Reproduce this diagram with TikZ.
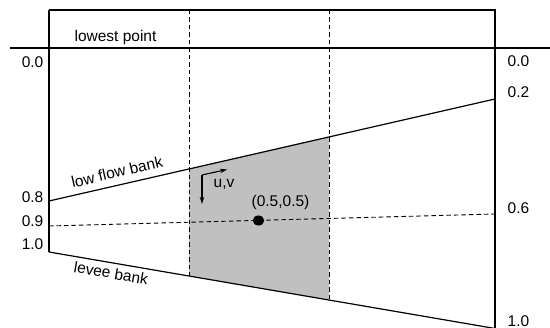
\documentclass[tikz,border=0pt]{standalone}
\usepackage{fontspec}
\setmainfont{Liberation Sans}
\usetikzlibrary{arrows.meta,shapes.geometric}
\definecolor{cellgray}{RGB}{192,192,192}
\begin{document}
\begin{tikzpicture}[x=1pt,y=-1pt,
  thickline/.style={line width=2.2pt},
  frameline/.style={line width=1.6pt},
  bankline/.style={line width=1.2pt},
  dashline/.style={line width=0.9pt,dash pattern=on 4.5pt off 3pt},
  lbl/.style={font=\fontsize{15.5}{18}\selectfont,inner sep=0pt},
  vec/.style={line width=1.1pt,-{Stealth[length=7pt,width=4.5pt]}}]
\useasboundingbox (0,0) rectangle (550,328);
% coordinates
\coordinate (TL) at (49,10);
\coordinate (TR) at (495,10);
\coordinate (HL) at (10,48);
\coordinate (HR) at (550,48);
\coordinate (LB) at (49,252);
\coordinate (RB) at (495,328);
\coordinate (lfA) at (49,201);
\coordinate (lfB) at (495,99);
\coordinate (lvA) at (49,252);
\coordinate (lvB) at (495,328.5);
\coordinate (mdA) at (49,226);
\coordinate (mdB) at (495,214);
\coordinate (d1T) at (189,10);
\coordinate (d1B) at (189,276);
\coordinate (d2T) at (329,10);
\coordinate (d2B) at (329,300);
\coordinate (g1) at (189,169);
\coordinate (g2) at (329,137);
% shaded cell
\fill[cellgray] (g1) -- (g2) -- (d2B) -- (d1B) -- cycle;
% dashed lines
\draw[dashline] (d1T) -- (d1B);
\draw[dashline] (d2T) -- (d2B);
\draw[dashline] (mdA) -- (mdB);
% banks
\draw[bankline] (lfA) -- (lfB);
\draw[bankline] (lvA) -- (lvB);
% frame
\draw[frameline] (TL) -- (TR) -- (RB);
\draw[thickline] (TL) -- (LB);
\draw[thickline] (HL) -- (HR);
% point
\node[fill=black,ellipse,inner sep=0pt,minimum width=11.5pt,minimum height=10pt] (pt) at (258.5,220.5) {};
% u,v arrows
\coordinate (uv) at (202,175);
\coordinate (uE) at (227,169.5);
\coordinate (vE) at (202,204);
\draw[vec] (uv) -- (uE);
\draw[vec] (uv) -- (vE);
% labels
\node[lbl,anchor=base] (lp) at (115.5,42) {lowest point};
\node[lbl,anchor=base] (uvl) at (224,188) {u,v};
\node[lbl,anchor=base] (ptl) at (280.5,206.5) {(0.5,0.5)};
\node[lbl,rotate=12.9] (lfl) at (117,172) {low flow bank};
\node[lbl,rotate=-9.7] (lvl) at (111,273) {levee bank};
\node[lbl,anchor=base east] (l00) at (43.5,67.5) {0.0};
\node[lbl,anchor=base east] (l08) at (43.5,203) {0.8};
\node[lbl,anchor=base east] (l09) at (43.5,226.5) {0.9};
\node[lbl,anchor=base east] (l10) at (43.5,249.5) {1.0};
\node[lbl,anchor=base west] (r00) at (507.5,67) {0.0};
\node[lbl,anchor=base west] (r02) at (507.5,98) {0.2};
\node[lbl,anchor=base west] (r06) at (507.5,214) {0.6};
\node[lbl,anchor=base west] (r10) at (507.5,327) {1.0};
\end{tikzpicture}
\end{document}
